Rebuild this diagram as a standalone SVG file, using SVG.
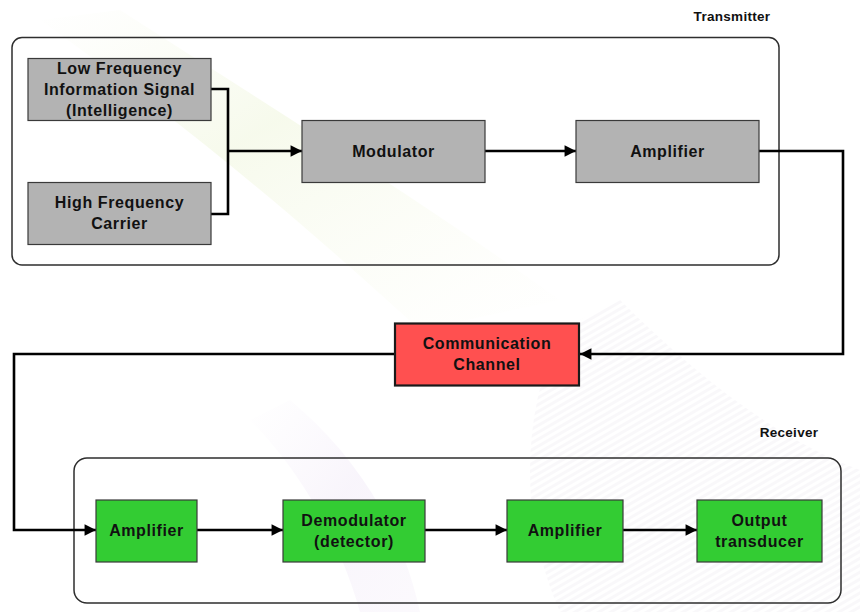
<svg xmlns="http://www.w3.org/2000/svg" width="860" height="612" viewBox="0 0 860 612">
  <defs>
    <marker id="arrow" viewBox="0 0 10 10" refX="10" refY="5" markerWidth="4.6" markerHeight="4.4" markerUnits="strokeWidth" orient="auto">
      <path d="M0,0 L10,5 L0,10 Z" fill="#000"/>
    </marker>
    <linearGradient id="sweepA" x1="0" y1="0" x2="1" y2="1">
      <stop offset="0" stop-color="#f6f9ea" stop-opacity="0"/>
      <stop offset="0.4" stop-color="#f3f8e4" stop-opacity="0.7"/>
      <stop offset="1" stop-color="#fbfcf2" stop-opacity="0"/>
    </linearGradient>
    <linearGradient id="sweepB" x1="0" y1="0" x2="1" y2="1">
      <stop offset="0" stop-color="#f7f2fb" stop-opacity="0"/>
      <stop offset="0.5" stop-color="#f4eef9" stop-opacity="0.6"/>
      <stop offset="1" stop-color="#f6f1fa" stop-opacity="0.4"/>
    </linearGradient>
    <pattern id="stripes" width="6" height="6" patternUnits="userSpaceOnUse" patternTransform="rotate(-30)">
      <rect width="6" height="3" fill="#ebe8f0" opacity="0.5"/>
    </pattern>
  </defs>
  <style>
    .box { stroke: #3a3a3a; stroke-width: 1.2; }
    .gray { fill: #b3b3b3; }
    .green { fill: #33cc33; }
    .red { fill: #ff5050; stroke: #1a1a1a; stroke-width: 2.2; }
    .frame { fill: none; stroke: #2e2e2e; stroke-width: 1.5; }
    .label { font-family: "Liberation Sans", Arial, sans-serif; font-weight: bold; font-size: 16px; letter-spacing: 0.6px; fill: #111; text-anchor: middle; }
    .title { font-family: "Liberation Sans", Arial, sans-serif; font-weight: bold; font-size: 13.5px; letter-spacing: 0.3px; fill: #111; text-anchor: middle; }
    .wire { fill: none; stroke: #000; stroke-width: 2.6; stroke-linejoin: miter; }
  </style>

  <!-- soft background sweeps -->
  <rect width="860" height="612" fill="#ffffff"/>
  <path d="M40,20 C180,120 300,220 420,330 L560,300 C420,200 260,100 120,10 Z" fill="url(#sweepA)"/>
  <path d="M620,300 C700,380 780,440 860,470 L860,612 L560,612 C520,520 520,420 560,330 Z" fill="url(#stripes)" opacity="0.6"/>
  <path d="M250,420 C300,470 340,540 360,612 L420,612 C400,520 350,450 290,400 Z" fill="url(#sweepB)"/>

  <!-- section frames -->
  <g id="transmitter">
    <rect class="frame" x="12" y="37.5" width="767" height="227.5" rx="10"/>
    <text class="title" x="732" y="21">Transmitter</text>
  </g>
  <g id="receiver">
    <rect class="frame" x="74" y="458" width="767" height="145" rx="13"/>
    <text class="title" x="789" y="437">Receiver</text>
  </g>

  <!-- connectors -->
  <g id="connectors">
    <polyline class="wire" points="211,89 228,89 228,214 211,214"/>
    <line class="wire" x1="228" y1="151" x2="302" y2="151" marker-end="url(#arrow)"/>
    <line class="wire" x1="485" y1="151" x2="576" y2="151" marker-end="url(#arrow)"/>
    <polyline class="wire" points="759,151 843,151 843,354 580,354" marker-end="url(#arrow)"/>
    <polyline class="wire" points="395,354 14,354 14,530 96,530" marker-end="url(#arrow)"/>
    <line class="wire" x1="197" y1="530" x2="283" y2="530" marker-end="url(#arrow)"/>
    <line class="wire" x1="425" y1="530" x2="507" y2="530" marker-end="url(#arrow)"/>
    <line class="wire" x1="623" y1="530" x2="697" y2="530" marker-end="url(#arrow)"/>
  </g>

  <!-- transmitter blocks -->
  <g id="lf-signal">
    <rect class="box gray" x="28" y="58.5" width="183" height="62"/>
    <text class="label" x="119.5" y="74">Low Frequency</text>
    <text class="label" x="119.5" y="95">Information Signal</text>
    <text class="label" x="119.5" y="116">(Intelligence)</text>
  </g>
  <g id="hf-carrier">
    <rect class="box gray" x="28" y="182.5" width="183" height="62"/>
    <text class="label" x="119.5" y="208">High Frequency</text>
    <text class="label" x="119.5" y="229">Carrier</text>
  </g>
  <g id="modulator">
    <rect class="box gray" x="302" y="120.5" width="183" height="62"/>
    <text class="label" x="393.5" y="157">Modulator</text>
  </g>
  <g id="tx-amplifier">
    <rect class="box gray" x="576" y="120.5" width="183" height="62"/>
    <text class="label" x="667.5" y="157">Amplifier</text>
  </g>

  <!-- channel -->
  <g id="channel">
    <rect class="red" x="395" y="323.5" width="184" height="62"/>
    <text class="label" x="487" y="349">Communication</text>
    <text class="label" x="487" y="370">Channel</text>
  </g>

  <!-- receiver blocks -->
  <g id="rx-amplifier">
    <rect class="box green" x="96" y="500" width="101" height="62"/>
    <text class="label" x="146.5" y="536">Amplifier</text>
  </g>
  <g id="demodulator">
    <rect class="box green" x="283" y="500" width="142" height="62"/>
    <text class="label" x="354" y="526">Demodulator</text>
    <text class="label" x="354" y="547">(detector)</text>
  </g>
  <g id="rx-amplifier-2">
    <rect class="box green" x="507" y="500" width="116" height="62"/>
    <text class="label" x="565" y="536">Amplifier</text>
  </g>
  <g id="output-transducer">
    <rect class="box green" x="697" y="500" width="125" height="62"/>
    <text class="label" x="759.5" y="526">Output</text>
    <text class="label" x="759.5" y="547">transducer</text>
  </g>
</svg>
